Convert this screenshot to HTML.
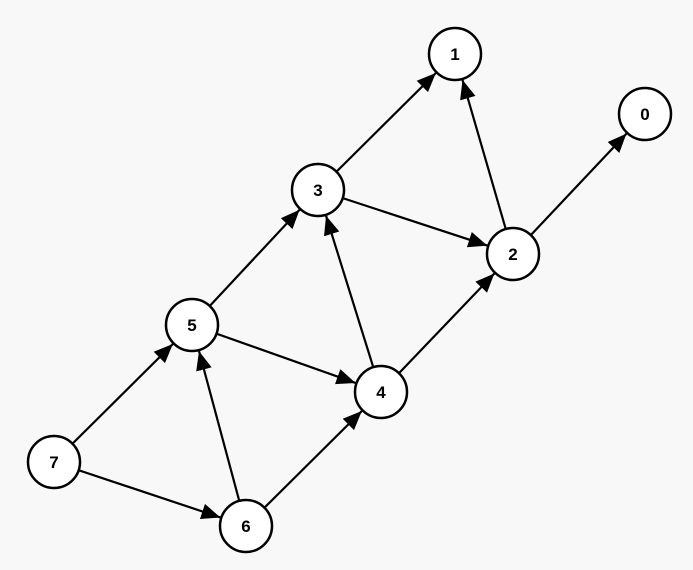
<!DOCTYPE html>
<html><head><meta charset="utf-8"><style>
html,body{margin:0;padding:0;background:#f8f8f8;}
svg{display:block;}
text{font-family:"Liberation Sans",sans-serif;font-weight:bold;font-size:17px;}
</style></head><body>
<svg width="693" height="570" viewBox="0 0 693 570" xmlns="http://www.w3.org/2000/svg">
<defs>
<marker id="a" markerUnits="userSpaceOnUse" markerWidth="80" markerHeight="30" refX="46" refY="8" orient="auto">
<path d="M0,0 L19,8 L0,16 Z" fill="#000"/>
</marker>
</defs>
<g stroke="#000" stroke-width="2.2" marker-end="url(#a)">
<line x1="318" y1="190" x2="455" y2="54"/>
<line x1="513" y1="254" x2="455" y2="54"/>
<line x1="513" y1="254" x2="645" y2="114"/>
<line x1="318" y1="190" x2="513" y2="254"/>
<line x1="192" y1="325" x2="318" y2="190"/>
<line x1="381" y1="392" x2="318" y2="190"/>
<line x1="381" y1="392" x2="513" y2="254"/>
<line x1="192" y1="325" x2="381" y2="392"/>
<line x1="54" y1="462" x2="192" y2="325"/>
<line x1="246" y1="526" x2="192" y2="325"/>
<line x1="246" y1="526" x2="381" y2="392"/>
<line x1="54" y1="462" x2="246" y2="526"/>
</g>
<g fill="#fff" stroke="#000" stroke-width="2.5">
<circle cx="455" cy="54" r="26"/>
<circle cx="645" cy="114" r="26"/>
<circle cx="318" cy="190" r="26"/>
<circle cx="513" cy="254" r="26"/>
<circle cx="192" cy="325" r="26"/>
<circle cx="381" cy="392" r="26"/>
<circle cx="54" cy="462" r="26"/>
<circle cx="246" cy="526" r="26"/>
</g>
<g text-anchor="middle" fill="#000">
<text x="455" y="60">1</text>
<text x="645" y="120">0</text>
<text x="318" y="196">3</text>
<text x="513" y="260">2</text>
<text x="192" y="331">5</text>
<text x="381" y="398">4</text>
<text x="54" y="468">7</text>
<text x="246" y="532">6</text>
</g>
</svg>
</body></html>
